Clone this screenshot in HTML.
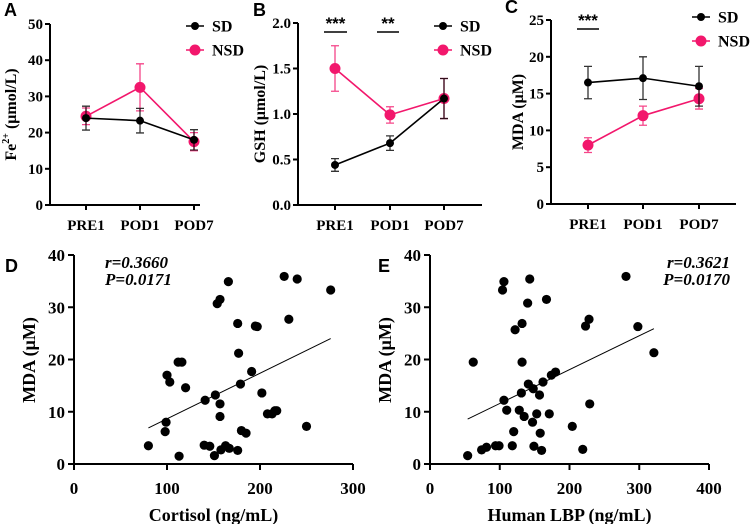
<!DOCTYPE html>
<html><head><meta charset="utf-8"><style>
body{margin:0;background:#fff;}
svg{display:block;font-family:"Liberation Serif",serif;font-weight:bold;}
.lt{font-family:"Liberation Sans",sans-serif;font-weight:bold;font-size:18px;}
</style></head><body>
<svg id="fig" width="752" height="524" viewBox="0 0 752 524" xmlns="http://www.w3.org/2000/svg"></svg>
<script>
const cats=["PRE1","POD1","POD7"];
const aSD=[24,23.3,18], aSDerr=[3.3,3.4,2.8];
const aNSD=[24.5,32.5,17.5], aNSDerr=[2.3,6.5,2.5];
const bSD=[0.44,0.68,1.17], bSDerr=[0.07,0.08,0.22];
const bNSD=[1.5,0.99,1.17], bNSDerr=[0.25,0.09,0.22];
const cSD=[16.5,17.1,16.0], cSDerr=[2.2,2.9,2.7];
const cNSD=[8.0,12.0,14.3], cNSDerr=[1.0,1.3,1.4];
const aTicks=[0,10,20,30,40,50], bTicks=[0,0.5,1.0,1.5,2.0], cTicks=[0,5,10,15,20,25];
const dX=[80,100,103,99,98,113,112,116,120,141,140,146,151,152,157,157,154,157,166,158,163,167,176,176,177,179,180,185,191,195,197,202,208,213,216,218,226,240,231,250,276];
const dY=[3.5,17,15.7,8,6.2,1.5,19.5,19.5,14.6,12.2,3.6,3.4,1.6,13.2,11.5,9.1,30.7,31.5,34.9,2.7,3.5,3.0,2.6,26.9,21.2,15.3,6.4,5.9,17.7,26.4,26.3,13.6,9.6,9.6,10.2,10.2,35.9,35.4,27.7,7.2,33.3];
const dFit=[[80,6.9],[276,24.0]];
const eX=[54,62,74,81,94,99,104,106,106,110,118,120,122,128,131,132,132,135,140,143,141,148,147,149,153,157,158,160,162,167,171,174,180,204,219,223,228,229,281,298,321];
const eY=[1.6,19.5,2.7,3.2,3.5,3.5,33.3,34.9,12.2,10.3,3.5,6.2,25.7,10.3,13.6,26.9,19.5,9.1,30.8,35.4,15.3,14.4,8.0,3.4,9.6,13.2,5.9,2.6,15.7,31.5,9.6,17.0,17.6,7.2,2.8,26.4,27.7,11.5,35.9,26.3,21.3];
const eFit=[[54,8.6],[321,25.9]];
const scYTicks=[0,10,20,30,40], dXTicks=[0,100,200,300], eXTicks=[0,100,200,300,400];

const NS="http://www.w3.org/2000/svg", svg=document.getElementById('fig');
const PINK="#f2176c";
function mk(tag,attrs,parent,txt){const e=document.createElementNS(NS,tag);for(const k in attrs)e.setAttribute(k,attrs[k]);if(txt!==undefined)e.textContent=txt;(parent||svg).appendChild(e);return e;}

function linePanel(o){
  const g=mk('g',{});
  
  
  const ys=v=>o.y0-(v-o.min)/(o.max-o.min)*(o.y0-o.y1);
  const xs=i=>o.cx[i];
  const ax=mk('path',{d:`M${o.ax},${o.y1}V${o.y0}H${o.xe}`,stroke:'#000','stroke-width':2,fill:'none'},g);
  
  o.ticks.forEach(t=>{mk('line',{x1:o.ax-5,x2:o.ax,y1:ys(t),y2:ys(t),stroke:'#000','stroke-width':2},g);
    const tl=mk('text',{x:o.ax-7,y:ys(t)+5,'text-anchor':'end','font-size':15},g,o.fmt(t));
    });
  cats.forEach((c,i)=>{mk('line',{x1:xs(i),x2:xs(i),y1:o.y0,y2:o.y0+5,stroke:'#000','stroke-width':2},g);
    const tl=mk('text',{x:xs(i),y:o.y0+25,'text-anchor':'middle','font-size':15},g,c);
    });
  const yt=mk('text',{transform:`translate(${o.tx},${(o.y0+o.y1)/2}) rotate(-90)`,'text-anchor':'middle','font-size':16},g);
  
  yt.innerHTML=o.title;
  [[o.nsd,o.nsdE,PINK,5.5,'nsd'],[o.sd,o.sdE,'#000',4,'sd']].forEach(([vals,errs,col,r,nm])=>{
    const sg=mk('g',{},g);
    mk('polyline',{points:vals.map((v,i)=>xs(i)+','+ys(v)).join(' '),stroke:col,'stroke-width':1.6,fill:'none'},sg);
    vals.forEach((v,i)=>{
      mk('path',{d:`M${xs(i)},${ys(v-errs[i])}V${ys(v+errs[i])}M${xs(i)-4},${ys(v-errs[i])}h8M${xs(i)-4},${ys(v+errs[i])}h8`,stroke:col,'stroke-width':1.3,fill:'none','stroke-opacity':0.8},sg);
      const c=mk('circle',{cx:xs(i),cy:ys(v),r:r,fill:col},sg);
      
    });
  });
  const lg=mk('g',{},g);
  [['SD','#000',4,o.ly],['NSD',PINK,5.5,o.ly+24]].forEach(([t,col,r,y])=>{
    mk('line',{x1:o.lx-9,x2:o.lx+9,y1:y,y2:y,stroke:col,'stroke-width':1.6},lg);
    mk('circle',{cx:o.lx,cy:y,r:r,fill:col},lg);
    const lt=mk('text',{x:o.lx+17,y:y+5.5,'font-size':16},lg,t);
    
  });
  (o.sig||[]).forEach(s=>{
    mk('line',{x1:s[0],x2:s[1],y1:s[2],y2:s[2],stroke:'#000','stroke-width':1.6},g);
    const st=mk('text',{x:(s[0]+s[1])/2,y:s[2]-3,'text-anchor':'middle','font-size':17,'font-family':'Liberation Sans'},g,s[3]);
    
  });
}
linePanel({name:'panel-a',ax:50,xe:200,y0:205,y1:24,min:0,max:50,ticks:aTicks,fmt:t=>t,cx:[86,140,194],tx:16,
  title:'Fe<tspan font-size="10" dy="-7">2+</tspan><tspan dy="7"> (μmol/L)</tspan>',sd:aSD,sdE:aSDerr,nsd:aNSD,nsdE:aNSDerr,lx:195,ly:26});
linePanel({name:'panel-b',ax:298,xe:482,y0:205,y1:23,min:0,max:2,ticks:bTicks,fmt:t=>t.toFixed(1),cx:[335,390,444],tx:265,
  title:'GSH (μmol/L)',sd:bSD,sdE:bSDerr,nsd:bNSD,nsdE:bNSDerr,lx:443,ly:26,sig:[[324,347,32,'***'],[377,399,32,'**']]});
linePanel({name:'panel-c',ax:551,xe:736,y0:204,y1:20,min:0,max:25,ticks:cTicks,fmt:t=>t,cx:[588,643,699],tx:523,
  title:'MDA (μM)',sd:cSD,sdE:cSDerr,nsd:cNSD,nsdE:cNSDerr,lx:701,ly:17,sig:[[577,599,29,'***']]});

function scatter(o){
  const g=mk('g',{});
  
  const xs=v=>o.ax+v/o.xmax*(o.xe-o.ax), ys=v=>464-v/40*(464-255);
  const ax=mk('path',{d:`M${o.ax},255V464H${o.xe}`,stroke:'#000','stroke-width':2,fill:'none'},g);
  
  scYTicks.forEach(t=>{mk('line',{x1:o.ax-6,x2:o.ax,y1:ys(t),y2:ys(t),stroke:'#000','stroke-width':2},g);
    const tl=mk('text',{x:o.ax-9,y:ys(t)+6,'text-anchor':'end','font-size':17},g,t);
    });
  o.xt.forEach(t=>{mk('line',{x1:xs(t),x2:xs(t),y1:464,y2:470,stroke:'#000','stroke-width':2},g);
    const tl=mk('text',{x:xs(t),y:494,'text-anchor':'middle','font-size':17},g,t);
    });
  const yt=mk('text',{transform:`translate(${o.tx},360) rotate(-90)`,'text-anchor':'middle','font-size':18},g,'MDA (μM)');
  
  const xt=mk('text',{x:(o.ax+o.xe)/2,y:521,'text-anchor':'middle','font-size':18},g,o.xtitle);
  
  o.X.forEach((x,i)=>{const c=mk('circle',{cx:xs(x),cy:ys(o.Y[i]),r:4.6,fill:'#000'},g);
    });
  const fl=mk('line',{x1:xs(o.fit[0][0]),y1:ys(o.fit[0][1]),x2:xs(o.fit[1][0]),y2:ys(o.fit[1][1]),stroke:'#000','stroke-width':1},g);
  
  const s1=mk('text',{x:o.sx,y:268,'font-size':17,'font-style':'italic','text-anchor':o.anc},g,o.r);
  
  const s2=mk('text',{x:o.sx,y:285,'font-size':17,'font-style':'italic','text-anchor':o.anc},g,o.p);
  
}
scatter({name:'panel-d',ax:74,xe:353,xmax:300,xt:dXTicks,X:dX,Y:dY,fit:dFit,tx:35,xtitle:'Cortisol (ng/mL)',sx:105,anc:'start',r:'r=0.3660',p:'P=0.0171'});
scatter({name:'panel-e',ax:430,xe:709,xmax:400,xt:eXTicks,X:eX,Y:eY,fit:eFit,tx:391,xtitle:'Human LBP (ng/mL)',sx:730,anc:'end',r:'r=0.3621',p:'P=0.0170'});

[['A',4,16],['B',253,16],['C',505,13],['D',5,272],['E',378,272]].forEach(([t,x,y])=>{
  const l=mk('text',{x:x,y:y,class:'lt'},svg,t);
  
});
</script>
</body></html>
